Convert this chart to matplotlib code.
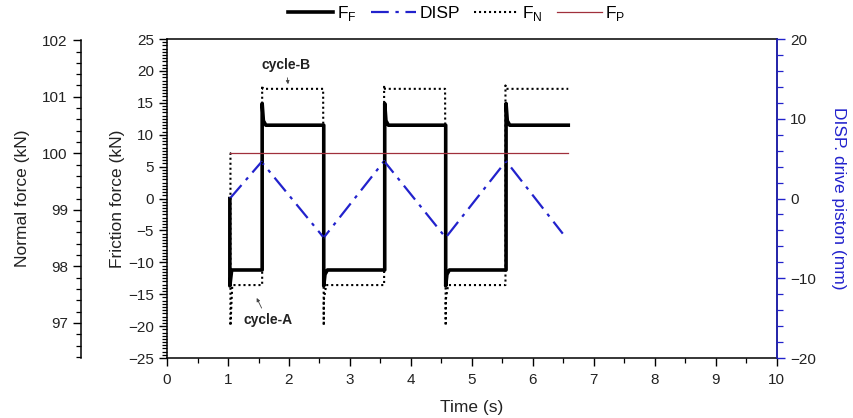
import matplotlib
matplotlib.use("Agg")
import matplotlib.pyplot as plt
from matplotlib.ticker import MultipleLocator

plt.rcParams['font.family'] = ['Liberation Sans', 'DejaVu Sans']
plt.rcParams['mathtext.fontset'] = 'custom'
plt.rcParams['mathtext.rm'] = 'Liberation Sans'

# Friction force F_F (kN), piecewise with start-up spikes
ff_t = [1.03, 1.03, 1.06, 1.56, 1.56, 1.58, 1.62, 2.57, 2.57, 2.59, 2.63, 3.57, 3.57, 3.59, 3.63,
        4.57, 4.57, 4.59, 4.63, 5.56, 5.56, 5.58, 5.62, 6.58]
ff_v = [0.0, -13.7, -11.2, -11.2, 14.9, 12.2, 11.5, 11.5, -13.7, -11.9, -11.2, -11.2, 14.9, 12.2, 11.5,
        11.5, -13.7, -11.9, -11.2, -11.2, 14.9, 12.2, 11.5, 11.5]

# Drive piston displacement (mm)
disp_t = [1.03, 1.55, 2.57, 3.56, 4.57, 5.56, 6.49]
disp_v = [0.0, 4.6, -4.9, 4.7, -4.9, 4.7, -4.4]

# Normal force F_N (kN)
fn_t = [1.03, 1.04, 1.04, 1.07, 1.56, 1.56, 1.57, 2.56, 2.57, 2.57, 2.61, 3.56, 3.56, 3.57,
        4.56, 4.57, 4.57, 4.61, 5.55, 5.55, 5.56, 6.58]
fn_v = [100.0, 100.0, 96.95, 97.67, 97.67, 101.2, 101.14, 101.14, 96.95, 97.4, 97.67, 97.67, 101.2, 101.14,
        101.14, 96.95, 97.4, 97.67, 97.67, 101.2, 101.14, 101.14]

# Normal force set point F_P (kN)
fp_t = [1.03, 6.58]
fp_v = [100.0, 100.0]

blue = '#2222cc'
txt = '#222222'

fig = plt.figure(figsize=(8.54, 4.18), dpi=100)
ax = fig.add_axes([0.1956, 0.1435, 0.714, 0.763])
ax_r = ax.twinx()
ax_n = ax.twinx()

l1, = ax.plot(ff_t, ff_v, color='black', lw=2.6, zorder=3)
l2, = ax_r.plot(disp_t, disp_v, color=blue, lw=1.6, dashes=(8, 3, 1.5, 3))
l3, = ax_n.plot(fn_t, fn_v, color='black', lw=1.5, linestyle=(0, (1, 1.4)))
l4, = ax_n.plot(fp_t, fp_v, color='#a0303c', lw=0.9)

# friction axis
ax.set_xlim(0, 10)
ax.set_ylim(-25, 25)
ax.xaxis.set_major_locator(MultipleLocator(1))
ax.xaxis.set_minor_locator(MultipleLocator(0.5))
ax.yaxis.set_major_locator(MultipleLocator(5))
ax.yaxis.set_minor_locator(MultipleLocator(0.5))
ax.tick_params(which='major', direction='out', length=6, width=1, labelsize=11, labelcolor=txt)
ax.tick_params(which='minor', direction='out', length=3.5, width=0.9)
ax.tick_params(axis='x', which='both', top=False, pad=5)
ax.set_xlabel('Time (s)', fontsize=12.5, color=txt, labelpad=9)
ax.set_ylabel('Friction force (kN)', fontsize=12.5, color=txt, labelpad=2)
for s in ax.spines.values():
    s.set_linewidth(1.1)

# displacement axis (right, blue)
ax_r.set_ylim(-20, 20)
ax_r.yaxis.set_major_locator(MultipleLocator(10))
ax_r.yaxis.set_minor_locator(MultipleLocator(2))
ax_r.tick_params(which='major', direction='out', length=6, width=1, color=blue, labelsize=11, labelcolor=txt)
ax_r.tick_params(which='minor', direction='out', length=4, width=0.9, color=blue)
ax_r.spines['right'].set_color(blue)
ax_r.spines['right'].set_linewidth(1.1)
for k in ['left', 'top', 'bottom']:
    ax_r.spines[k].set_visible(False)
ax_r.set_ylabel('DISP. drive piston (mm)', fontsize=12.5, color=blue, rotation=270, labelpad=22)

# normal force axis (far left)
ax_n.set_ylim(96.38, 102.02)
ax_n.spines['left'].set_position(('axes', -0.1412))
ax_n.spines['left'].set_visible(True)
ax_n.spines['left'].set_bounds(96.38, 102)
ax_n.spines['left'].set_linewidth(1.1)
for k in ['right', 'top', 'bottom']:
    ax_n.spines[k].set_visible(False)
ax_n.yaxis.set_ticks_position('left')
ax_n.yaxis.set_label_position('left')
ax_n.yaxis.set_major_locator(MultipleLocator(1))
ax_n.yaxis.set_minor_locator(MultipleLocator(0.2))
ax_n.tick_params(which='major', direction='out', length=6, width=1, labelsize=11, labelcolor=txt)
ax_n.tick_params(which='minor', direction='out', length=3.5, width=0.9)
ax_n.set_ylabel('Normal force (kN)', fontsize=12.5, color=txt, labelpad=9)

# annotations
ax.annotate('cycle-B', xy=(1.99, 17.5), xytext=(1.95, 20.9), ha='center', va='center',
            fontsize=10, fontweight='bold', color=txt,
            arrowprops=dict(arrowstyle='-|>', color='#444444', lw=0.6, mutation_scale=5))
ax.annotate('cycle-A', xy=(1.45, -15.2), xytext=(1.65, -19.1), ha='center', va='center',
            fontsize=10, fontweight='bold', color=txt,
            arrowprops=dict(arrowstyle='-|>', color='#444444', lw=0.6, mutation_scale=5))

fig.legend([l1, l2, l3, l4], [r'F$_{\rm F}$', 'DISP', r'F$_{\rm N}$', r'F$_{\rm P}$'],
           loc='center', bbox_to_anchor=(0.535, 0.968), ncol=4, frameon=False,
           fontsize=12.5, handlelength=2.6, handletextpad=0.2, columnspacing=0.8)

fig.savefig('out.png', dpi=100)
